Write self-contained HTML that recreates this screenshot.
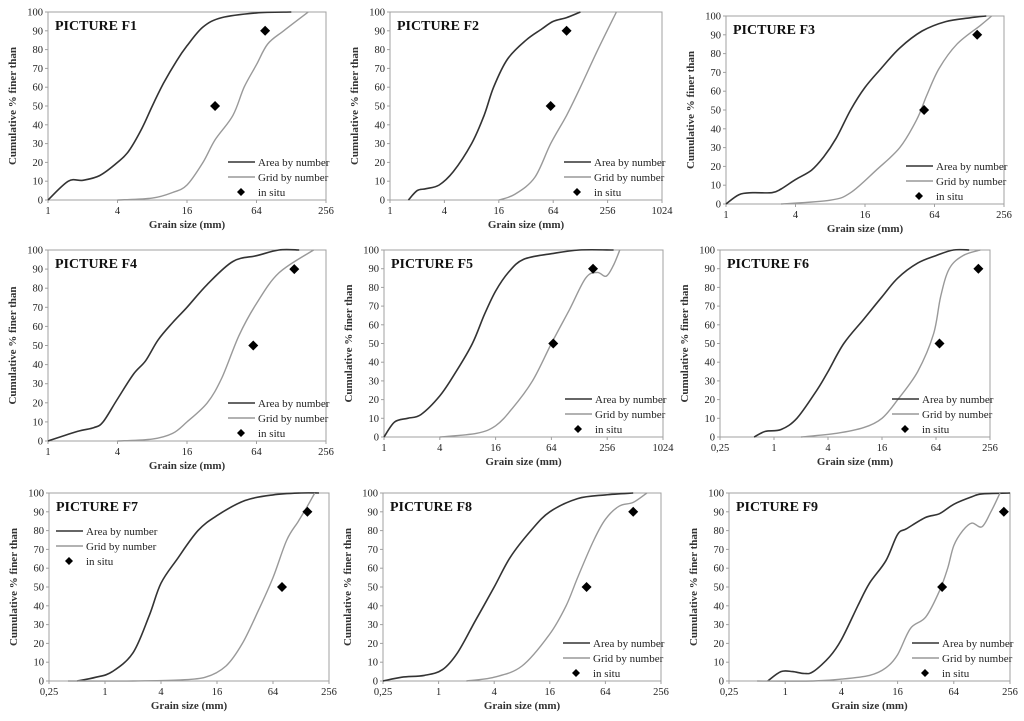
<!DOCTYPE html>
<html><head><meta charset="utf-8"><style>
body{margin:0;background:#fff;width:1024px;height:721px;overflow:hidden}
svg{display:block;font-family:"Liberation Serif",serif}
</style></head><body>
<svg id="c" width="1024" height="721" viewBox="0 0 1024 721"></svg>
<script>
const panelTitles=["PICTURE F1","PICTURE F2","PICTURE F3","PICTURE F4","PICTURE F5","PICTURE F6","PICTURE F7","PICTURE F8","PICTURE F9"];
const xMinVals=[1,1,1,1,1,0.25,0.25,0.25,0.25];
const xMaxVals=[256,1024,256,256,1024,256,256,256,256];
const xTickLabels=[["1","4","16","64","256"],["1","4","16","64","256","1024"],["1","4","16","64","256"],["1","4","16","64","256"],["1","4","16","64","256","1024"],["0,25","1","4","16","64","256"],["0,25","1","4","16","64","256"],["0,25","1","4","16","64","256"],["0,25","1","4","16","64","256"]];
const yTicks=[0,10,20,30,40,50,60,70,80,90,100];
const areaSizes=[
[1,1.5,2,2.8,4,5,6.5,8,10,13,16,22,32,64,128],
[1.6,2,2.5,3.5,5,8,11,14,20,32,48,64,90,128],
[1,1.3,1.7,2.5,3,4,5.5,7,9,12,16,22,32,50,80,128,180],
[1,1.8,2.5,3,4,5.5,7,9,12,16,24,40,64,100,150],
[1,1.3,1.8,2.5,4,6,9,12,16,22,32,64,128,300],
[0.6,0.8,1.2,1.8,3,4,6,10,16,24,40,64,100,150],
[0.5,0.8,1.2,2,3,4,6,10,16,32,64,128,200],
[0.25,0.4,0.7,1.1,1.6,2.5,4,6,10,16,32,64,128],
[0.65,0.9,1.2,1.6,2,3,4,6,8,12,16,20,32,45,64,100,128,256]];
const areaPct=[
[0,10,10.5,13,20,26,38,50,62,74,82,92,97,99.5,100],
[0,5,6,8,15,30,45,60,75,85,91,95,97,100],
[0,5,6,6,8,13,18,25,35,50,62,72,83,92,97,99,100],
[0,5,7,10,22,35,42,53,62,70,82,94,97,100,100],
[0,8,10,12,22,35,50,65,78,88,95,98,100,100],
[0,3,4,10,25,35,50,63,75,85,93,97,100,100],
[0,2,5,15,35,52,65,80,88,96,99,100,100],
[0,2,3,6,15,32,50,66,80,90,97,99,100],
[0,5,5,4,5,13,22,40,52,64,78,81,87,89,94,98,99.5,100]];
const gridSizes=[
[4,8,12,16,22,28,40,50,64,80,110,180],
[16,24,40,60,90,128,200,320],
[3,8,12,20,32,45,55,70,100,160,200],
[4,8,12,16,24,32,45,64,100,200],
[4,10,16,24,40,64,100,150,200,250,300,350],
[2,5,10,16,24,40,60,72,90,128,200],
[0.4,2,6,12,20,30,45,64,90,120,150,180],
[2,4,8,16,24,32,48,64,90,128,180],
[0.5,2,4,8,12,16,22,32,45,55,64,80,100,128,160,200]];
const gridPct=[
[0,1,4,8,20,32,45,60,72,83,90,100],
[0,3,12,30,45,60,80,100],
[0,2,6,18,30,45,58,72,85,95,100],
[0,1,4,10,20,33,55,72,88,100],
[0,2,6,15,30,50,68,85,88,86,92,100],
[0,2,5,10,20,35,55,75,90,97,100],
[0,0,0.5,2,8,20,38,55,75,85,93,100],
[0,2,8,25,40,55,75,86,93,95,100],
[0,0,1,3,7,14,28,34,48,60,72,80,84,82,90,100]];
const insituSizes=[[28,76],[60,90],[52,150],[60,136],[67,180],[70,190],[80,150],[40,128],[48,220]];
const insituPct=[[50,90],[50,90],[50,90],[50,90],[50,90],[50,90],[50,90],[50,90],[50,90]];
const boxes=[[48,12,326,200],[390,12,662,200],[726,16,1004,204],[48,250,326,441],[384,250,663,437],[720,250,990,437],[49,493,329,681],[383,493,661,681],[729,493,1010,681]];
const legendTop=[false,false,false,false,false,false,true,false,false];
const NS="http://www.w3.org/2000/svg";
const svg=document.getElementById('c');
function mk(tag,attrs,parent){const e=document.createElementNS(NS,tag);for(const k in attrs)e.setAttribute(k,attrs[k]);(parent||svg).appendChild(e);return e;}
function smooth(pts){let d="M"+pts[0][0].toFixed(1)+","+pts[0][1].toFixed(1);for(let i=0;i<pts.length-1;i++){const p0=pts[i-1]||pts[i],p1=pts[i],p2=pts[i+1],p3=pts[i+2]||p2;const c1=[p1[0]+(p2[0]-p0[0])/6,p1[1]+(p2[1]-p0[1])/6],c2=[p2[0]-(p3[0]-p1[0])/6,p2[1]-(p3[1]-p1[1])/6];d+=" C"+c1.map(v=>v.toFixed(1))+" "+c2.map(v=>v.toFixed(1))+" "+p2[0].toFixed(1)+","+p2[1].toFixed(1);}return d;}
for(let p=0;p<9;p++){
 const [x0,y0,x1,y1]=boxes[p];
 const g=mk('g',{});
 
 
 const lmin=Math.log2(xMinVals[p]),lmax=Math.log2(xMaxVals[p]);
 const X=v=>x0+(Math.log2(v)-lmin)/(lmax-lmin)*(x1-x0);
 const Y=v=>y1-v/100*(y1-y0);
 const fr=mk('rect',{x:x0,y:y0,width:x1-x0,height:y1-y0,fill:'none',stroke:'#a0a0a0','stroke-width':1},g);
 
 yTicks.forEach(t=>{const tx=mk('text',{x:x0-5,y:Y(t)+3.5,'font-size':10.5,'text-anchor':'end',fill:'#222'},g);tx.textContent=t;
  
  mk('line',{x1:x0-3,x2:x0,y1:Y(t),y2:Y(t),stroke:'#a0a0a0'},g);});
 xTickLabels[p].forEach(l=>{const v=parseFloat(l.replace(',','.'));const tx=mk('text',{x:X(v),y:y1+14,'font-size':10.5,'text-anchor':'middle',fill:'#222'},g);tx.textContent=l;
  
  mk('line',{x1:X(v),x2:X(v),y1:y1,y2:y1+3,stroke:'#a0a0a0'},g);});
 const xt=mk('text',{x:(x0+x1)/2,y:y1+28,'font-size':11,'font-weight':'bold','text-anchor':'middle',fill:'#333'},g);xt.textContent="Grain size (mm)";
 
 const yc=(y0+y1)/2,yx=x0-32;
 const yt=mk('text',{x:yx,y:yc,'font-size':11,'font-weight':'bold','text-anchor':'middle',fill:'#333',transform:`rotate(-90 ${yx} ${yc})`},g);yt.textContent="Cumulative % finer than";
 
 const ti=mk('text',{x:x0+7,y:y0+18,'font-size':14,'font-weight':'bold',fill:'#111'},g);ti.textContent=panelTitles[p];
 
 const ap=areaSizes[p].map((s,i)=>[X(s),Y(areaPct[p][i])]);
 const a=mk('path',{d:smooth(ap),fill:'none',stroke:'#333','stroke-width':1.6},g);
 
 const gp=gridSizes[p].map((s,i)=>[X(s),Y(gridPct[p][i])]);
 const gl=mk('path',{d:smooth(gp),fill:'none',stroke:'#999','stroke-width':1.4},g);
 
 insituSizes[p].forEach((s,i)=>{const cx=X(s),cy=Y(insituPct[p][i]);
  const m=mk('path',{d:`M${cx},${cy-5}L${cx+5},${cy}L${cx},${cy+5}L${cx-5},${cy}Z`,fill:'#000'},g);
  });
 let lx,ly;
 if(legendTop[p]){lx=x0+7;ly=y0+38;}else{lx=x1-98;ly=y1-38;}
 const names=["Area by number","Grid by number","in situ"];
 names.forEach((n,i)=>{const yy=ly+i*15;
  if(i<2)mk('line',{x1:lx,x2:lx+27,y1:yy,y2:yy,stroke:i?'#999':'#333','stroke-width':1.6},g);
  else mk('path',{d:`M${lx+13},${yy-4}L${lx+17},${yy}L${lx+13},${yy+4}L${lx+9},${yy}Z`,fill:'#000'},g);
  const t=mk('text',{x:lx+30,y:yy+4,'font-size':11,fill:'#222'},g);t.textContent=n;
  });
}
</script>
</body></html>
